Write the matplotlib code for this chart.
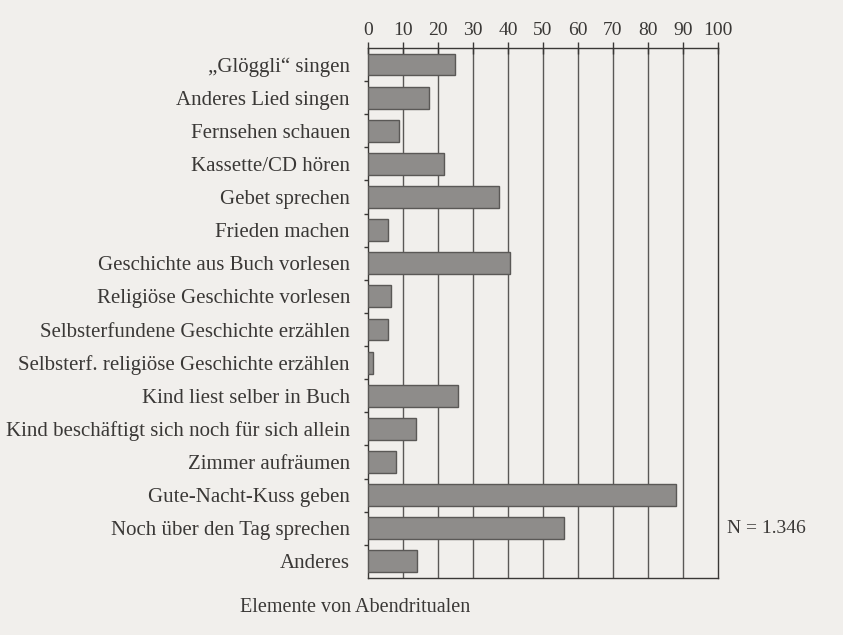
import numpy as np
import matplotlib.pyplot as plt

categories = [
    "\u201eGl\u00f6ggli\u201c singen",
    "Anderes Lied singen",
    "Fernsehen schauen",
    "Kassette/CD h\u00f6ren",
    "Gebet sprechen",
    "Frieden machen",
    "Geschichte aus Buch vorlesen",
    "Religi\u00f6se Geschichte vorlesen",
    "Selbsterfundene Geschichte erz\u00e4hlen",
    "Selbsterf. religi\u00f6se Geschichte erz\u00e4hlen",
    "Kind liest selber in Buch",
    "Kind besch\u00e4ftigt sich noch f\u00fcr sich allein",
    "Zimmer aufr\u00e4umen",
    "Gute-Nacht-Kuss geben",
    "Noch \u00fcber den Tag sprechen",
    "Anderes",
]
values = [25, 17.4, 8.8, 21.7, 37.3, 5.8, 40.5, 6.7, 5.6, 1.4, 25.7, 13.8, 8.1, 88.1, 56.1, 13.9]
xticks = list(range(0, 101, 10))

bg = "#f1efec"
ink = "#3a3836"
plt.rcParams['font.family'] = ['Liberation Serif', 'DejaVu Serif']

fig = plt.figure(figsize=(8.43, 6.35), dpi=100, facecolor=bg)
ax = fig.add_axes([0.4365, 0.0898, 0.4152, 0.8346])
ax.set_facecolor(bg)

y = np.arange(len(categories))
ax.barh(y, values, height=0.66, color="#8e8c8a", edgecolor="#5a5856", linewidth=1.0, zorder=3)

ax.set_xlim(0, 100)
ax.set_ylim(len(categories) - 0.5, -0.5)
ax.set_xticks(xticks)
ax.xaxis.tick_top()
ax.tick_params(axis='x', direction='inout', length=9, width=1.0, color=ink,
               labelsize=14, labelcolor=ink, pad=2)
for x in xticks[1:-1]:
    ax.axvline(x, color="#5a5856", linewidth=1.0, zorder=1)

ax.set_yticks(y)
ax.set_yticklabels(categories)
ax.tick_params(axis='y', which='major', length=0, labelsize=15, labelcolor=ink, pad=13)
ax.set_yticks(np.arange(len(categories) - 1) + 0.5, minor=True)
ax.tick_params(axis='y', which='minor', length=3, width=1.0, color=ink)

for s in ['top', 'left', 'bottom', 'right']:
    ax.spines[s].set_color(ink)
    ax.spines[s].set_linewidth(1.0)

ax.text(1.025, 14, "N = 1.346", transform=ax.get_yaxis_transform(), ha='left', va='center',
        fontsize=14, color=ink)
fig.text(0.421, 0.044, "Elemente von Abendritualen", ha='center', va='center',
         fontsize=14.5, color=ink)

fig.savefig("out.png", dpi=100, facecolor=bg)
